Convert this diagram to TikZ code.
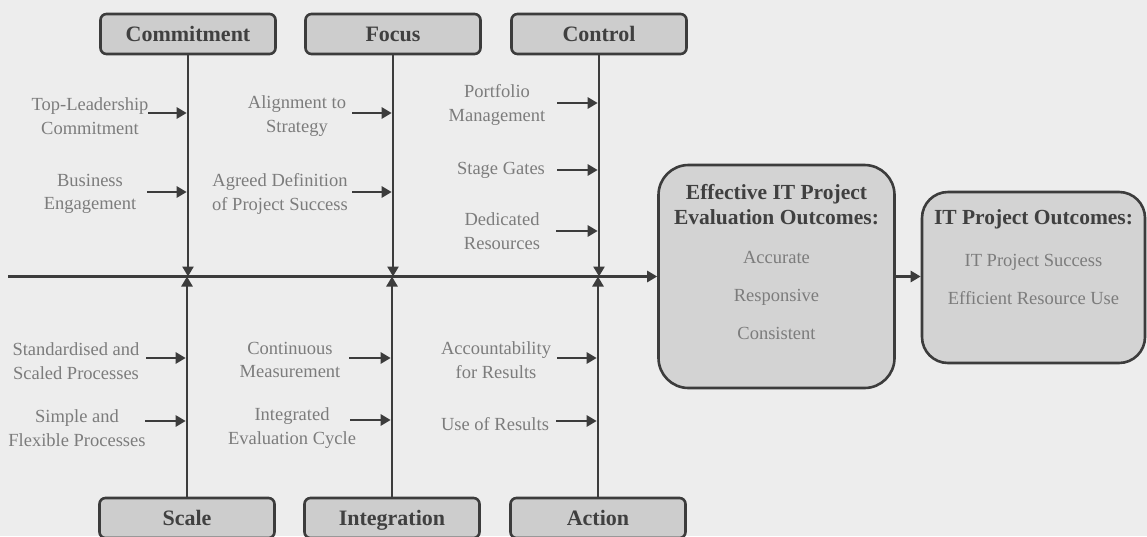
\documentclass[tikz,border=0pt]{standalone}
\usepackage{fontspec}
\setmainfont{Liberation Serif}
\usepackage{xcolor}
\usepackage{tikz}
\usetikzlibrary{arrows.meta,positioning}
\definecolor{bg}{HTML}{EDEDED}
\definecolor{hdrfill}{HTML}{CDCDCD}
\definecolor{outfill}{HTML}{D3D3D3}
\definecolor{linegray}{HTML}{3C3C3C}
\definecolor{txtgray}{HTML}{7C7C7C}
\definecolor{hdrtxt}{HTML}{404040}
\tikzset{
  catbox/.style   = {rounded corners=6pt, draw=linegray, line width=2.6pt, fill=hdrfill,
                     minimum width=175pt, minimum height=40pt, text=hdrtxt,
                     text height=17pt, text depth=3pt,
                     font=\fontsize{22pt}{26pt}\selectfont\bfseries},
  cause/.style    = {align=center, text=txtgray, inner sep=2pt,
                     font=\fontsize{18.5pt}{23.5pt}\selectfont},
  bone/.style     = {-{Triangle[length=10pt,width=11pt]}, line width=2.6pt, linegray},
  branch/.style   = {bone, shorten >=1.3pt},
  outbox/.style   = {rounded corners=30pt, draw=linegray, line width=2.6pt, fill=outfill},
  outtitle/.style = {align=center, text=hdrtxt, inner sep=3pt,
                     font=\fontsize{21.5pt}{25.5pt}\selectfont\bfseries},
  outitem/.style  = {align=center, text=txtgray, inner sep=3pt,
                     font=\fontsize{18.5pt}{38pt}\selectfont},
}

\begin{document}
\begin{tikzpicture}[x=1pt, y=-1pt]
  \useasboundingbox (0,0) rectangle (1147,536);
  \clip (0,0) rectangle (1147,536);
  \fill[bg] (0,0) rectangle (1147,536);

  % category boxes
  \node[catbox] (cmt) at (188,34)  {Commitment};
  \node[catbox] (foc) at (393,34)  {Focus};
  \node[catbox] (ctl) at (599,34)  {Control};
  \node[catbox] (scl) at (187,518) {Scale};
  \node[catbox] (itg) at (392,518) {Integration};
  \node[catbox] (act) at (598,518) {Action};

  % outcome boxes
  \node[outbox, minimum width=236pt, minimum height=223pt] (eff) at (776.5,276.5) {};
  \node[outtitle, below=17pt of eff.north] (efft) {Effective IT Project\\Evaluation Outcomes:};
  \node[outitem, below=20pt of efft] (effi) {Accurate\\Responsive\\Consistent};
  \node[outbox, rounded corners=26pt, minimum width=223pt, minimum height=171pt] (itp) at (1033.5,277.5) {};
  \node[outtitle, below=16pt of itp.north] (itpt) {IT Project Outcomes:};
  \node[outitem, below=18pt of itpt] (itpi) {IT Project Success\\Efficient Resource Use};

  % spine
  \coordinate (sp) at (8,276.5);
  \draw[bone] (sp) -- (eff.west);
  \draw[bone] (eff.east) -- (eff.east -| itp.west);
  \draw[bone] (cmt.south) -- (cmt.south |- sp);
  \draw[bone] (foc.south) -- (foc.south |- sp);
  \draw[bone] (ctl.south) -- (ctl.south |- sp);
  \draw[bone] (scl.north) -- (scl.north |- sp);
  \draw[bone] (itg.north) -- (itg.north |- sp);
  \draw[bone] (act.north) -- (act.north |- sp);

  % causes
  \node[cause] (c1) at (90,116)  {Top-Leadership\\Commitment};
  \node[cause] (c2) at (90,194)  {Business\\Engagement};
  \node[cause] (f1) at (297,116) {Alignment to\\Strategy};
  \node[cause] (f2) at (280,194) {Agreed Definition\\of Project Success};
  \node[cause] (k1) at (497,105) {Portfolio\\Management};
  \node[cause] (k2) at (501,170) {Stage Gates};
  \node[cause] (k3) at (502,231) {Dedicated\\Resources};
  \node[cause] (s1) at (76,361)  {Standardised and\\Scaled Processes};
  \node[cause] (s2) at (77,428)  {Simple and\\Flexible Processes};
  \node[cause] (i1) at (290,360) {Continuous\\Measurement};
  \node[cause] (i2) at (292,428) {Integrated\\Evaluation Cycle};
  \node[cause] (a1) at (496,360) {Accountability\\for Results};
  \node[cause] (a2) at (495,424) {Use of Results};

  \coordinate (c1a) at (148,113);
  \coordinate (c2a) at (147,192);
  \coordinate (f1a) at (352,113);
  \coordinate (f2a) at (352,192);
  \coordinate (k1a) at (557,103);
  \coordinate (k2a) at (557,170);
  \coordinate (k3a) at (556,231);
  \coordinate (s1a) at (146,358);
  \coordinate (s2a) at (145,421);
  \coordinate (i1a) at (349,358);
  \coordinate (i2a) at (350,420);
  \coordinate (a1a) at (557,358);
  \coordinate (a2a) at (556,421);
  \draw[branch] (c1a) -- (c1a -| cmt.south);
  \draw[branch] (c2a) -- (c2a -| cmt.south);
  \draw[branch] (f1a) -- (f1a -| foc.south);
  \draw[branch] (f2a) -- (f2a -| foc.south);
  \draw[branch] (k1a) -- (k1a -| ctl.south);
  \draw[branch] (k2a) -- (k2a -| ctl.south);
  \draw[branch] (k3a) -- (k3a -| ctl.south);
  \draw[branch] (s1a) -- (s1a -| scl.north);
  \draw[branch] (s2a) -- (s2a -| scl.north);
  \draw[branch] (i1a) -- (i1a -| itg.north);
  \draw[branch] (i2a) -- (i2a -| itg.north);
  \draw[branch] (a1a) -- (a1a -| act.north);
  \draw[branch] (a2a) -- (a2a -| act.north);
\end{tikzpicture}
\end{document}
